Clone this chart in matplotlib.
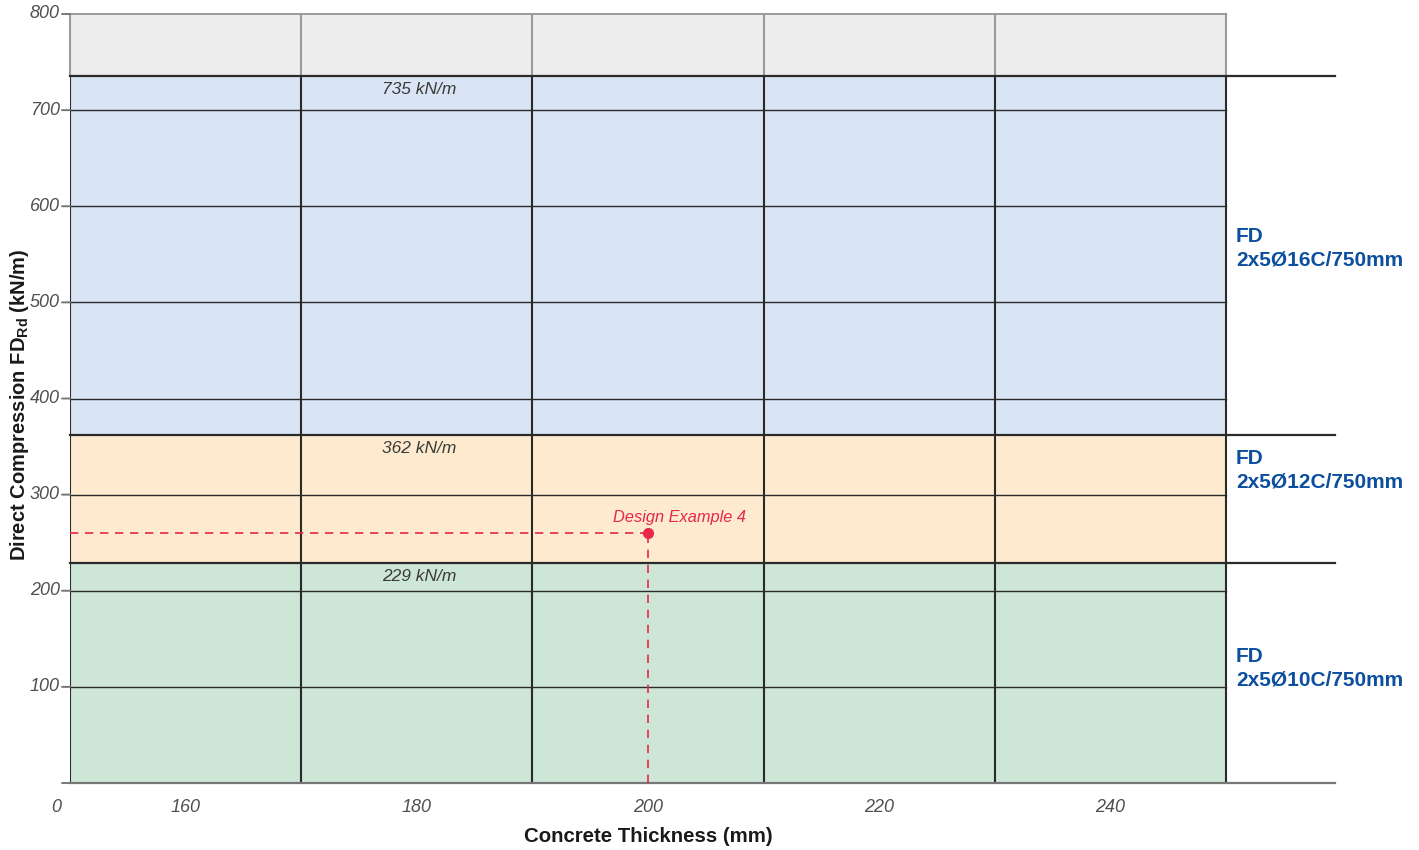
import matplotlib
matplotlib.use("Agg")
import matplotlib.pyplot as plt
from matplotlib.transforms import blended_transform_factory

plt.rcParams["font.family"] = ["Liberation Sans", "DejaVu Sans"]

# Column layout (concrete thickness, mm)
col_edges = [150, 170, 190, 210, 230, 250]
thickness_ticks = [160, 180, 200, 220, 240]
y_ticks = [100, 200, 300, 400, 500, 600, 700, 800]

# Resistance bands (kN/m)
band_limits = [229, 362, 735]
band_colors = ["#cde6d6", "#feebcf", "#d9e4f4"]
band_labels = ["229 kN/m", "362 kN/m", "735 kN/m"]
band_names = ["FD\n2x5Ø10C/750mm", "FD\n2x5Ø12C/750mm", "FD\n2x5Ø16C/750mm"]
band_name_y = [119, 325, 556]
top_limit = 800

# Design example point
example_thickness = 200
example_force = 260
example_label = "Design Example 4"

red = "#e8274a"
dark = "#2a2a2a"
gray = "#8c8c8c"
blue = "#0c4f9e"

fig = plt.figure(figsize=(14.19, 8.5), dpi=100)
ax = fig.add_axes([70 / 1419, 67 / 850, 1265 / 1419, 769 / 850])
ax.set_xlim(150, 259.43)
ax.set_ylim(0, top_limit)
for s in ax.spines.values():
    s.set_visible(False)
ax.set_xticks([])
ax.set_yticks([])

x0, x1 = col_edges[0], col_edges[-1]

# Band fills
lower = 0
for lim, col in zip(band_limits, band_colors):
    ax.fill_between([x0, x1], lower, lim, color=col, lw=0, zorder=0)
    lower = lim
ax.fill_between([x0, x1], band_limits[-1], top_limit, color="#ededed", lw=0, zorder=0)

# Horizontal grid inside the columns
for yv in y_ticks[:-1]:
    ax.plot([x0, x1], [yv, yv], color=dark, lw=1.0, zorder=2)
ax.plot([x0, x1], [top_limit, top_limit], color=gray, lw=1.2, zorder=2, clip_on=False)

# Column dividers
for xv in col_edges:
    ax.plot([xv, xv], [0, band_limits[-1]], color=dark, lw=1.5, zorder=3)
    ax.plot([xv, xv], [band_limits[-1], top_limit], color="#9a9a9a", lw=1.5, zorder=3,
            clip_on=False)

# Band boundaries run out to the labels
xmax = ax.get_xlim()[1]
for lim in band_limits:
    ax.plot([x0, xmax], [lim, lim], color=dark, lw=1.6, zorder=4, clip_on=False)
ax.plot([x0, xmax], [0, 0], color="#777777", lw=1.6, zorder=4, clip_on=False)

# Y ticks drawn as short outward marks
trans_y = blended_transform_factory(ax.transAxes, ax.transData)
for yv in [0] + y_ticks:
    ax.annotate("", xy=(0, yv), xycoords=trans_y, xytext=(-8, 0), textcoords="offset pixels",
                arrowprops=dict(arrowstyle="-", color="#777777", lw=1.4,
                                shrinkA=0, shrinkB=0))
for yv in y_ticks:
    ax.annotate(str(yv), xy=(0, yv), xycoords=trans_y, xytext=(-10, 0),
                textcoords="offset pixels", ha="right", va="center",
                fontsize=13, style="italic", color="#505050")

# X tick labels at column centres
trans_x = blended_transform_factory(ax.transData, ax.transAxes)
for xv in thickness_ticks:
    ax.annotate(str(xv), xy=(xv, 0), xycoords=trans_x, xytext=(0, -24),
                textcoords="offset pixels", ha="center", va="center",
                fontsize=13, style="italic", color="#505050")
ax.annotate("0", xy=(0, 0), xycoords="axes fraction", xytext=(-14, -24),
            textcoords="offset pixels", ha="center", va="center",
            fontsize=13, style="italic", color="#505050")

# Band value labels
for lim, lab in zip(band_limits, band_labels):
    ax.annotate(lab, xy=(180.2, lim), xytext=(0, -6), textcoords="offset pixels",
                ha="center", va="top", fontsize=12.5, style="italic", color="#3a3a3a",
                zorder=5)

# Band names on the right
for yv, name in zip(band_name_y, band_names):
    ax.text(250.85, yv, name, ha="left", va="center", fontsize=15, fontweight="bold",
            color=blue, linespacing=1.3)

# Design example
ax.plot([x0, example_thickness], [example_force, example_force], color=red, lw=1.2,
        ls=(0, (5, 4)), zorder=6)
ax.plot([example_thickness, example_thickness], [0, example_force], color=red, lw=1.2,
        ls=(0, (5, 4)), zorder=6)
ax.plot([example_thickness], [example_force], "o", color=red, ms=7, zorder=7)
ax.annotate(example_label, xy=(example_thickness, example_force), xytext=(32, 8),
            textcoords="offset pixels", ha="center", va="bottom", fontsize=11.8,
            style="italic", color=red, zorder=7)

# Axis titles
ax.text(200, -0.069, "Concrete Thickness (mm)", transform=trans_x, ha="center",
        va="center", fontsize=14.7, fontweight="bold", color="#1a1a1a")
fig.text(20 / 1419, 1 - 405 / 850,
         r"Direct Compression FD$_{\mathregular{Rd}}$ (kN/m)",
         rotation=90, ha="center", va="center", fontsize=14.5, fontweight="bold",
         color="#1a1a1a")

fig.savefig("out.png", dpi=100)
